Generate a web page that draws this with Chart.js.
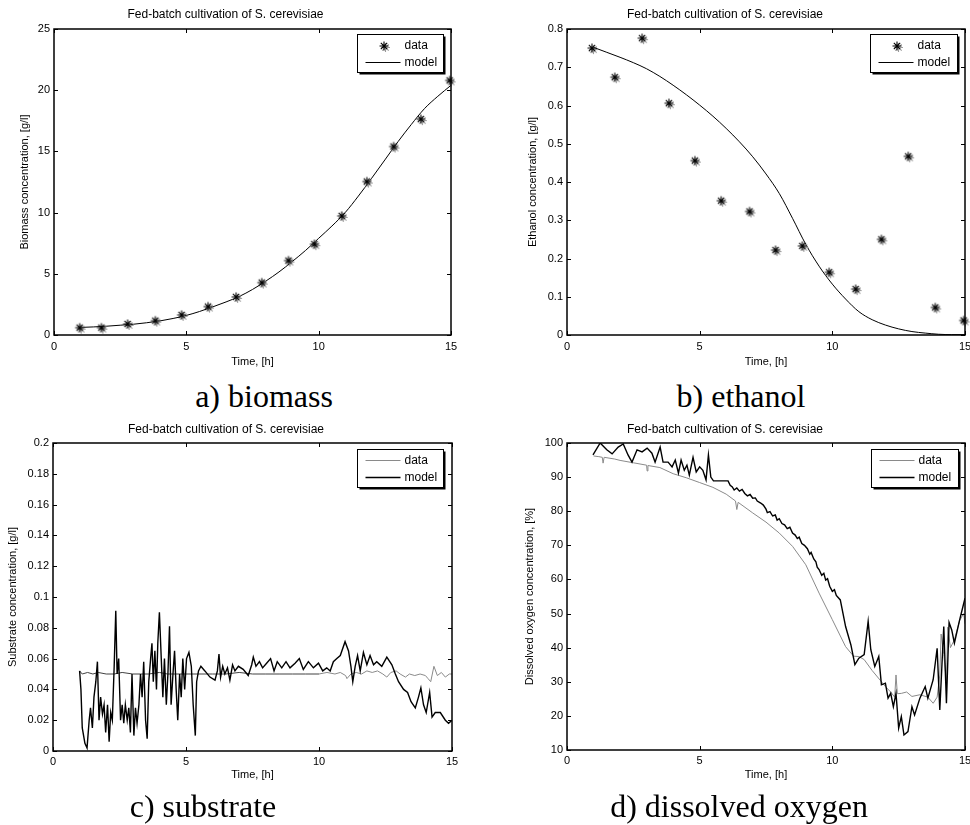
<!DOCTYPE html>
<html><head><meta charset="utf-8">
<script src="https://cdn.jsdelivr.net/npm/chart.js"></script>
<style>
html,body{margin:0;padding:0;background:#fff;}
body{width:970px;height:825px;position:relative;overflow:hidden;}
canvas{position:absolute;}
.cap{position:absolute;font-family:"Liberation Serif","Times New Roman",serif;font-size:32px;line-height:36px;white-space:nowrap;transform:translate(-50%,-50%);color:#000;}
</style></head><body>
<canvas id="ca" width="485" height="378" style="left:0;top:0"></canvas>
<canvas id="cb" width="495" height="378" style="left:485px;top:0"></canvas>
<canvas id="cc" width="485" height="378" style="left:0;top:414px"></canvas>
<canvas id="cd" width="495" height="378" style="left:485px;top:414px"></canvas>
<div class="cap" style="left:264px;top:396px">a) biomass</div>
<div class="cap" style="left:741px;top:396px">b) ethanol</div>
<div class="cap" style="left:203px;top:806px">c) substrate</div>
<div class="cap" style="left:739px;top:806px">d) dissolved oxygen</div>
<script>
// ---- tick labels ----
const timeTicks = [0, 5, 10, 15];
const biomassTicks = [0, 5, 10, 15, 20, 25];
const ethanolTicks = [0, 0.1, 0.2, 0.3, 0.4, 0.5, 0.6, 0.7, 0.8];
const substrateTicks = [0, 0.02, 0.04, 0.06, 0.08, 0.1, 0.12, 0.14, 0.16, 0.18, 0.2];
const oxygenTicks = [10, 20, 30, 40, 50, 60, 70, 80, 90, 100];
const seriesNames = ['data', 'model'];
const chartTitle = 'Fed-batch cultivation of S. cerevisiae';

// ---- a) biomass [time h, g/l] ----
const biomassData = [[0.97,0.60],[1.79,0.60],[2.78,0.90],[3.83,1.17],[4.82,1.64],[5.82,2.32],[6.88,3.11],[7.85,4.28],[8.86,6.08],[9.84,7.42],[10.87,9.73],[11.82,12.54],[12.83,15.40],[13.86,17.64],[14.95,20.80]];
const biomassModel = [[1,0.62],[1.5,0.66],[2,0.72],[2.5,0.80],[3,0.88],[3.5,1.00],[4,1.15],[4.5,1.35],[5,1.60],[5.5,1.92],[6,2.30],[6.5,2.70],[7,3.15],[7.5,3.72],[8,4.40],[8.5,5.15],[9,6.00],[9.5,6.90],[10,7.90],[10.5,8.90],[11,10.00],[11.5,11.35],[12,12.80],[12.5,14.30],[13,15.80],[13.5,17.20],[14,18.50],[14.5,19.50],[15,20.40]];

// ---- b) ethanol ----
const ethanolData = [[0.94,0.750],[1.80,0.674],[2.83,0.776],[3.84,0.606],[4.82,0.456],[5.81,0.351],[6.88,0.323],[7.86,0.222],[8.87,0.233],[9.88,0.164],[10.88,0.120],[11.85,0.250],[12.86,0.467],[13.88,0.072],[14.95,0.038]];
const ethanolModel = [[1,0.752],[1.5,0.739],[2,0.726],[2.5,0.712],[3,0.696],[3.5,0.676],[4,0.653],[4.5,0.628],[5,0.601],[5.5,0.572],[6,0.540],[6.5,0.505],[7,0.466],[7.5,0.421],[8,0.370],[8.5,0.305],[9,0.237],[9.5,0.180],[10,0.133],[10.5,0.094],[11,0.061],[11.5,0.040],[12,0.026],[12.5,0.016],[13,0.009],[13.5,0.005],[14,0.002],[14.5,0.001],[15,0.001]];

// ---- c) substrate ----
const substrateData = [[1.0,0.052],[1.1,0.050],[1.3,0.051],[1.5,0.050],[1.7,0.051],[2.0,0.050],[2.3,0.050],[2.6,0.051],[3.0,0.050],[3.3,0.050],[3.6,0.050],[4.0,0.051],[4.3,0.050],[4.6,0.050],[5.0,0.050],[5.3,0.050],[5.6,0.050],[6.0,0.050],[6.5,0.050],[7.0,0.051],[7.5,0.050],[8.0,0.050],[8.5,0.050],[9.0,0.050],[9.5,0.050],[10.0,0.050],[10.3,0.051],[10.6,0.050],[10.8,0.051],[11.0,0.049],[11.05,0.047],[11.2,0.050],[11.4,0.051],[11.6,0.050],[11.8,0.052],[12.0,0.051],[12.2,0.052],[12.4,0.050],[12.55,0.048],[12.7,0.051],[12.9,0.052],[13.05,0.050],[13.25,0.048],[13.4,0.050],[13.6,0.049],[13.8,0.050],[14.0,0.049],[14.1,0.047],[14.2,0.045],[14.32,0.055],[14.45,0.049],[14.6,0.051],[14.75,0.048],[14.9,0.050],[15.0,0.050]];
const substrateModel = [[1.0,0.052],[1.05,0.040],[1.1,0.015],[1.2,0.005],[1.28,0.002],[1.36,0.020],[1.41,0.028],[1.48,0.015],[1.54,0.035],[1.61,0.045],[1.67,0.058],[1.73,0.020],[1.79,0.035],[1.86,0.024],[1.92,0.030],[1.98,0.012],[2.05,0.030],[2.11,0.006],[2.17,0.025],[2.23,0.020],[2.30,0.055],[2.36,0.091],[2.41,0.050],[2.47,0.060],[2.54,0.020],[2.60,0.030],[2.66,0.018],[2.72,0.030],[2.79,0.020],[2.85,0.028],[2.91,0.012],[2.97,0.050],[3.04,0.010],[3.10,0.028],[3.16,0.018],[3.23,0.030],[3.29,0.050],[3.35,0.035],[3.41,0.058],[3.48,0.020],[3.54,0.008],[3.60,0.045],[3.67,0.060],[3.72,0.070],[3.77,0.045],[3.83,0.065],[3.89,0.040],[3.94,0.070],[4.00,0.090],[4.07,0.060],[4.13,0.035],[4.19,0.060],[4.26,0.030],[4.32,0.050],[4.38,0.081],[4.44,0.030],[4.51,0.050],[4.57,0.065],[4.63,0.040],[4.69,0.020],[4.76,0.050],[4.82,0.035],[4.88,0.060],[4.95,0.040],[5.02,0.060],[5.11,0.064],[5.20,0.055],[5.27,0.030],[5.35,0.010],[5.40,0.045],[5.47,0.052],[5.56,0.055],[5.71,0.052],[5.90,0.048],[6.09,0.046],[6.18,0.052],[6.24,0.063],[6.30,0.048],[6.38,0.055],[6.46,0.050],[6.56,0.054],[6.65,0.046],[6.75,0.056],[6.84,0.052],[6.97,0.055],[7.15,0.053],[7.34,0.049],[7.47,0.056],[7.53,0.061],[7.63,0.055],[7.76,0.058],[7.88,0.054],[8.03,0.057],[8.18,0.060],[8.31,0.052],[8.43,0.058],[8.60,0.054],[8.76,0.058],[8.91,0.054],[9.10,0.057],[9.26,0.060],[9.41,0.053],[9.60,0.058],[9.79,0.054],[9.98,0.057],[10.14,0.052],[10.29,0.054],[10.42,0.052],[10.54,0.058],[10.67,0.060],[10.80,0.062],[10.98,0.071],[11.11,0.065],[11.20,0.055],[11.27,0.045],[11.36,0.055],[11.45,0.062],[11.55,0.052],[11.67,0.064],[11.80,0.056],[11.92,0.062],[12.05,0.056],[12.17,0.058],[12.36,0.055],[12.55,0.061],[12.74,0.056],[12.87,0.050],[12.99,0.045],[13.18,0.040],[13.33,0.038],[13.46,0.032],[13.62,0.028],[13.74,0.035],[13.83,0.041],[13.93,0.030],[14.03,0.025],[14.16,0.038],[14.25,0.022],[14.37,0.025],[14.56,0.025],[14.75,0.020],[14.87,0.018],[15.0,0.020]];

// ---- d) dissolved oxygen [%] ----
const oxygenData = [[1.0,96.2],[1.2,96.0],[1.33,95.8],[1.36,94.1],[1.4,95.8],[1.8,95.3],[2.0,94.9],[2.5,94.2],[3.0,93.5],[3.02,91.8],[3.05,93.4],[3.5,92.8],[4.0,91.0],[4.5,89.8],[5.0,88.4],[5.5,87.0],[6.0,85.0],[6.35,83.0],[6.4,80.5],[6.45,82.6],[7.0,79.5],[7.5,76.8],[8.0,73.6],[8.5,69.7],[9.0,64.3],[9.5,56.0],[10.0,48.2],[10.5,40.3],[10.8,37.5],[11.0,37.4],[11.2,36.5],[11.5,33.3],[11.8,30.5],[12.0,28.6],[12.2,27.0],[12.35,25.5],[12.4,32.0],[12.45,26.5],[12.6,26.6],[12.8,27.0],[13.0,25.7],[13.3,26.2],[13.6,25.5],[13.8,23.7],[13.95,25.5],[14.05,32.0],[14.1,44.0],[14.2,38.0],[14.3,30.0],[14.35,46.0],[14.45,40.0],[14.6,42.3],[14.8,48.0],[14.95,50.0],[15.0,47.0]];
const oxygenModel = [[0.98,96.5],[1.25,100],[1.5,98],[1.7,96.8],[1.93,98.8],[2.12,99.7],[2.3,96.5],[2.45,94.4],[2.64,98],[2.83,97.4],[3.02,98.5],[3.2,97],[3.32,94.4],[3.51,98.8],[3.62,94.4],[3.81,94.4],[3.96,93],[4.08,95],[4.2,91.2],[4.3,95],[4.42,92],[4.52,93.5],[4.61,90.6],[4.75,95.8],[4.87,91.5],[5.0,93],[5.12,92],[5.24,89.2],[5.33,96.5],[5.42,90],[5.52,88.9],[6.07,88.9],[6.15,87.6],[6.23,87.1],[6.3,86.2],[6.4,86.8],[6.5,85.9],[6.6,86.4],[6.7,85.2],[6.8,84.5],[6.9,84.9],[7.0,83.8],[7.1,83.9],[7.17,83.0],[7.3,82.4],[7.4,81.8],[7.5,80.6],[7.55,79.6],[7.65,79.9],[7.75,78.6],[7.85,78.9],[7.92,77.4],[8.0,77.8],[8.1,76.4],[8.2,76.0],[8.3,74.9],[8.4,75.3],[8.5,73.6],[8.6,73.0],[8.68,72.0],[8.75,72.4],[8.85,70.5],[8.95,70.0],[9.06,69.0],[9.15,67.4],[9.2,67.9],[9.3,66.0],[9.38,65.2],[9.43,63.6],[9.5,62.9],[9.6,61.2],[9.68,61.8],[9.75,59.8],[9.82,60.2],[9.9,58.0],[10.0,56.5],[10.08,57.0],[10.15,55.3],[10.3,54],[10.5,46.2],[10.7,40.8],[10.85,35],[11.0,36.9],[11.2,38],[11.35,47.7],[11.45,39.4],[11.6,34.5],[11.75,37.4],[11.85,29.1],[12.0,29.6],[12.1,25.2],[12.2,26.6],[12.3,22.7],[12.4,26.6],[12.5,16.4],[12.6,19.8],[12.7,14.4],[12.85,15.4],[13.0,22.7],[13.1,20.3],[13.3,25.2],[13.5,28.6],[13.6,25.2],[13.8,30.6],[13.95,39.8],[14.05,21.7],[14.2,46.2],[14.3,23.7],[14.4,47.4],[14.5,45.2],[14.6,41.3],[14.8,48.2],[15.0,54.5]];

// ---- rendering ----
Chart.defaults.font.family = "'Liberation Sans', Arial, Helvetica, sans-serif";
Chart.defaults.color = '#000';
const toXY = p => p.map(([x, y]) => ({ x, y }));

function strokeStar(ctx, x, y, r) {
  ctx.beginPath();
  ctx.moveTo(x - r, y); ctx.lineTo(x + r, y);
  ctx.moveTo(x, y - r); ctx.lineTo(x, y + r);
  const d = r * Math.SQRT1_2;
  ctx.moveTo(x - d, y - d); ctx.lineTo(x + d, y + d);
  ctx.moveTo(x - d, y + d); ctx.lineTo(x + d, y - d);
  ctx.stroke();
}
// MATLAB-like '*' marker with its faint offset echo
const starImg = document.createElement('canvas');
starImg.width = 18; starImg.height = 18;
(function () {
  const c = starImg.getContext('2d');
  c.lineWidth = 1.1;
  c.strokeStyle = '#9a9a9a'; strokeStar(c, 10.5, 10.5, 4.5);
  c.strokeStyle = '#000'; strokeStar(c, 9, 9, 4.5);
})();

const matlabFrame = {
  id: 'matlabFrame',
  afterDatasetsDraw(chart, args, opts) {
    const { ctx, chartArea: a, scales: { x, y } } = chart;
    ctx.save();
    ctx.strokeStyle = '#000';
    ctx.lineWidth = 1;
    ctx.beginPath();
    x.ticks.forEach(t => {
      const px = Math.round(x.getPixelForValue(t.value)) + 0.5;
      ctx.moveTo(px, a.bottom); ctx.lineTo(px, a.bottom - 4);
      ctx.moveTo(px, a.top); ctx.lineTo(px, a.top + 4);
    });
    y.ticks.forEach(t => {
      const py = Math.round(y.getPixelForValue(t.value)) + 0.5;
      ctx.moveTo(a.left, py); ctx.lineTo(a.left + 4, py);
      ctx.moveTo(a.right, py); ctx.lineTo(a.right - 4, py);
    });
    ctx.stroke();
    ctx.lineWidth = 1.5;
    ctx.strokeRect(a.left, a.top, a.width, a.height);
    // legend
    const lg = opts.box;
    const bx = Math.round(a.right - lg.right - lg.w) + 0.5, by = Math.round(a.top + lg.top) + 0.5;
    ctx.fillStyle = '#fff';
    ctx.fillRect(bx, by, lg.w, lg.h);
    ctx.lineWidth = 1;
    ctx.strokeRect(bx, by, lg.w, lg.h);
    ctx.lineWidth = 2;
    ctx.beginPath();
    ctx.moveTo(bx + lg.w + 1, by + 2); ctx.lineTo(bx + lg.w + 1, by + lg.h + 1); ctx.lineTo(bx + 2, by + lg.h + 1);
    ctx.stroke();
    ctx.font = "12px 'Liberation Sans', Arial, sans-serif";
    ctx.textBaseline = 'middle';
    ctx.textAlign = 'left';
    chart.data.datasets.forEach((ds, i) => {
      const cy = by + 11 + i * 17;
      if (ds.showLine === false) {
        ctx.drawImage(starImg, Math.round(bx + 26 - 9), Math.round(cy - 9));
      } else {
        ctx.strokeStyle = ds.borderColor;
        ctx.lineWidth = ds.borderWidth;
        ctx.beginPath(); ctx.moveTo(bx + 8, cy); ctx.lineTo(bx + 43, cy); ctx.stroke();
      }
      ctx.fillStyle = '#000';
      ctx.fillText(ds.label, bx + 47, cy);
    });
    ctx.restore();
  }
};

function panel(id, o) {
  const W = o.W, H = 378;
  return new Chart(document.getElementById(id), {
    type: 'line',
    data: { datasets: o.datasets },
    options: {
      responsive: false, animation: false, events: [],
      layout: { padding: { left: 0, top: 0, right: W - o.area.right, bottom: 0 } },
      plugins: {
        legend: { display: false },
        tooltip: { enabled: false },
        title: { display: true, text: chartTitle, color: '#000',
          font: { size: 12, weight: 'normal', lineHeight: 1.2 },
          padding: { top: o.titleCenter - 7.2, bottom: o.area.top - o.titleCenter - 7.2 } },
        matlabFrame: { box: o.legend }
      },
      scales: {
        x: {
          type: 'linear', min: 0, max: 15,
          afterBuildTicks: s => { s.ticks = timeTicks.map(v => ({ value: v })); },
          afterFit: s => { s.height = H - o.area.bottom; },
          grid: { display: false, drawTicks: false }, border: { display: false },
          ticks: { color: '#000', font: { size: 11, lineHeight: 1.2 }, padding: o.xTickPad, maxRotation: 0, autoSkip: false, callback: v => String(v) },
          title: { display: true, text: 'Time, [h]', color: '#000', font: { size: 11, lineHeight: 1.2 }, padding: { top: 0, bottom: H - o.timeCenter - 6.6 } }
        },
        y: {
          type: 'linear', min: o.yTicks[0], max: o.yTicks[o.yTicks.length - 1],
          afterBuildTicks: s => { s.ticks = o.yTicks.map(v => ({ value: v })); },
          afterFit: s => { s.width = o.area.left; },
          grid: { display: false, drawTicks: false }, border: { display: false },
          ticks: { color: '#000', font: { size: 11, lineHeight: 1.2 }, padding: 4, autoSkip: false, callback: v => String(v) },
          title: { display: true, text: o.yTitle, color: '#000', font: { size: 11, lineHeight: 1.2 }, padding: { top: o.yTitleCenter - 6.6, bottom: 0 } }
        }
      }
    },
    plugins: [matlabFrame]
  });
}

const starSet = pts => ({ label: seriesNames[0], data: toXY(pts), showLine: false, borderColor: '#000', backgroundColor: '#000',
  pointStyle: starImg, pointRadius: 5, clip: false, order: 1 });
const modelThin = pts => ({ label: seriesNames[1], data: toXY(pts), borderColor: '#000', borderWidth: 1, pointRadius: 0, tension: 0.4, cubicInterpolationMode: 'monotone', fill: false, order: 2 });
const greyData = pts => ({ label: seriesNames[0], data: toXY(pts), borderColor: '#8a8a8a', borderWidth: 1, pointRadius: 0, tension: 0, fill: false, order: 2,
  segment: { borderColor: c => (c.p0.parsed.x < 10 ? '#404040' : '#8a8a8a') } });
const greyData2 = pts => ({ label: seriesNames[0], data: toXY(pts), borderColor: '#8a8a8a', borderWidth: 1, pointRadius: 0, tension: 0, fill: false, order: 2 });
const modelBold = pts => ({ label: seriesNames[1], data: toXY(pts), borderColor: '#000', borderWidth: 1.4, pointRadius: 0, tension: 0, fill: false, order: 1 });

panel('ca', { W: 485, area: { left: 54, top: 29, right: 451, bottom: 335 }, titleCenter: 15, timeCenter: 362, xTickPad: 5,
  yTicks: biomassTicks, yTitle: 'Biomass concentration, [g/l]', yTitleCenter: 25,
  legend: { right: 8, top: 5, w: 86, h: 38 },
  datasets: [starSet(biomassData), modelThin(biomassModel)] });

panel('cb', { W: 495, area: { left: 82, top: 29, right: 480, bottom: 335 }, titleCenter: 15, timeCenter: 362, xTickPad: 5,
  yTicks: ethanolTicks, yTitle: 'Ethanol concentration, [g/l]', yTitleCenter: 48,
  legend: { right: 8, top: 5, w: 87, h: 38 },
  datasets: [starSet(ethanolData), modelThin(ethanolModel)] });

panel('cc', { W: 485, area: { left: 53, top: 29, right: 452, bottom: 337 }, titleCenter: 16, timeCenter: 361, xTickPad: 4,
  yTicks: substrateTicks, yTitle: 'Substrate concentration, [g/l]', yTitleCenter: 13,
  legend: { right: 9, top: 6, w: 86, h: 38 },
  datasets: [greyData(substrateData), modelBold(substrateModel)] });

panel('cd', { W: 495, area: { left: 82, top: 29, right: 480, bottom: 336 }, titleCenter: 16, timeCenter: 361, xTickPad: 4,
  yTicks: oxygenTicks, yTitle: 'Dissolved oxygen concentration, [%]', yTitleCenter: 45,
  legend: { right: 7, top: 6, w: 87, h: 38 },
  datasets: [greyData2(oxygenData), modelBold(oxygenModel)] });
</script>
</body></html>
